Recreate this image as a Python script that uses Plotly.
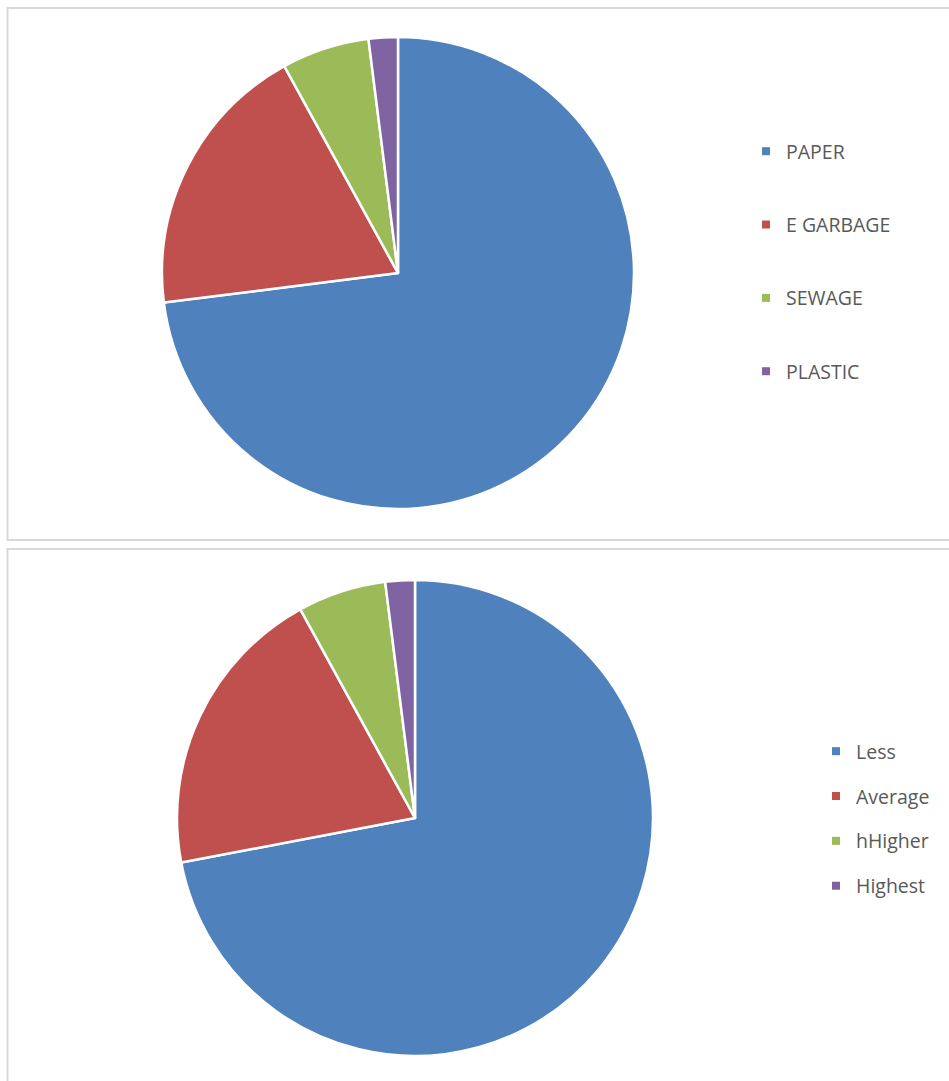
import plotly.graph_objects as go

W, H = 949, 1081

# Data
waste_labels = ["PAPER", "E GARBAGE", "SEWAGE", "PLASTIC"]
waste_values = [73, 19, 6, 2]
level_labels = ["Less", "Average", "hHigher", "Highest"]
level_values = [72, 20, 6, 2]
colors = ["#4F81BD", "#C0504D", "#9BBB59", "#8064A2"]


def px(x):
    return x / W


def py(y):
    return 1 - y / H


fig = go.Figure()

fig.add_trace(go.Pie(
    labels=waste_labels, values=waste_values,
    sort=False, direction="clockwise", rotation=0,
    textinfo="none", hoverinfo="label+value+percent",
    marker=dict(colors=colors, line=dict(color="white", width=2.5)),
    domain=dict(x=[px(162), px(634)], y=[py(509), py(37)]),
    showlegend=False,
))
fig.add_trace(go.Pie(
    labels=level_labels, values=level_values,
    sort=False, direction="clockwise", rotation=0,
    textinfo="none", hoverinfo="label+value+percent",
    marker=dict(colors=colors, line=dict(color="white", width=2.5)),
    domain=dict(x=[px(177), px(653)], y=[py(1056), py(580)]),
    showlegend=False,
))

# legend entries (one group per category so that item spacing can be set)
for lbls, leg in ((waste_labels, "legend"), (level_labels, "legend2")):
    for lab, col in zip(lbls, colors):
        fig.add_trace(go.Scatter(
            x=[None], y=[None], mode="markers", name=lab,
            marker=dict(symbol="square", size=8, color=col),
            legendgroup=leg + lab, legend=leg, showlegend=True,
            hoverinfo="skip",
        ))

font = dict(family="Open Sans, Lato, sans-serif", size=19.5, color="#595959")

fig.update_layout(
    width=W, height=H,
    margin=dict(l=0, r=0, t=0, b=0),
    paper_bgcolor="white", plot_bgcolor="white",
    xaxis=dict(visible=False), yaxis=dict(visible=False),
    legend=dict(x=px(746), y=py(132), xanchor="left", yanchor="top",
                traceorder="grouped", tracegroupgap=45, font=font,
                itemsizing="trace", bgcolor="rgba(0,0,0,0)"),
    legend2=dict(x=px(816), y=py(732), xanchor="left", yanchor="top",
                 traceorder="grouped", tracegroupgap=16.5, font=font,
                 itemsizing="trace", bgcolor="rgba(0,0,0,0)"),
    shapes=[
        dict(type="rect", xref="paper", yref="paper",
             x0=px(7.5), x1=px(960), y0=py(540), y1=py(8),
             line=dict(color="#D9D9D9", width=2), fillcolor="rgba(0,0,0,0)"),
        dict(type="rect", xref="paper", yref="paper",
             x0=px(7.5), x1=px(960), y0=py(1100), y1=py(549),
             line=dict(color="#D9D9D9", width=2), fillcolor="rgba(0,0,0,0)"),
    ],
)

fig.write_html("out.html", config={"displayModeBar": False},
               post_script="document.body.style.margin='0';")
